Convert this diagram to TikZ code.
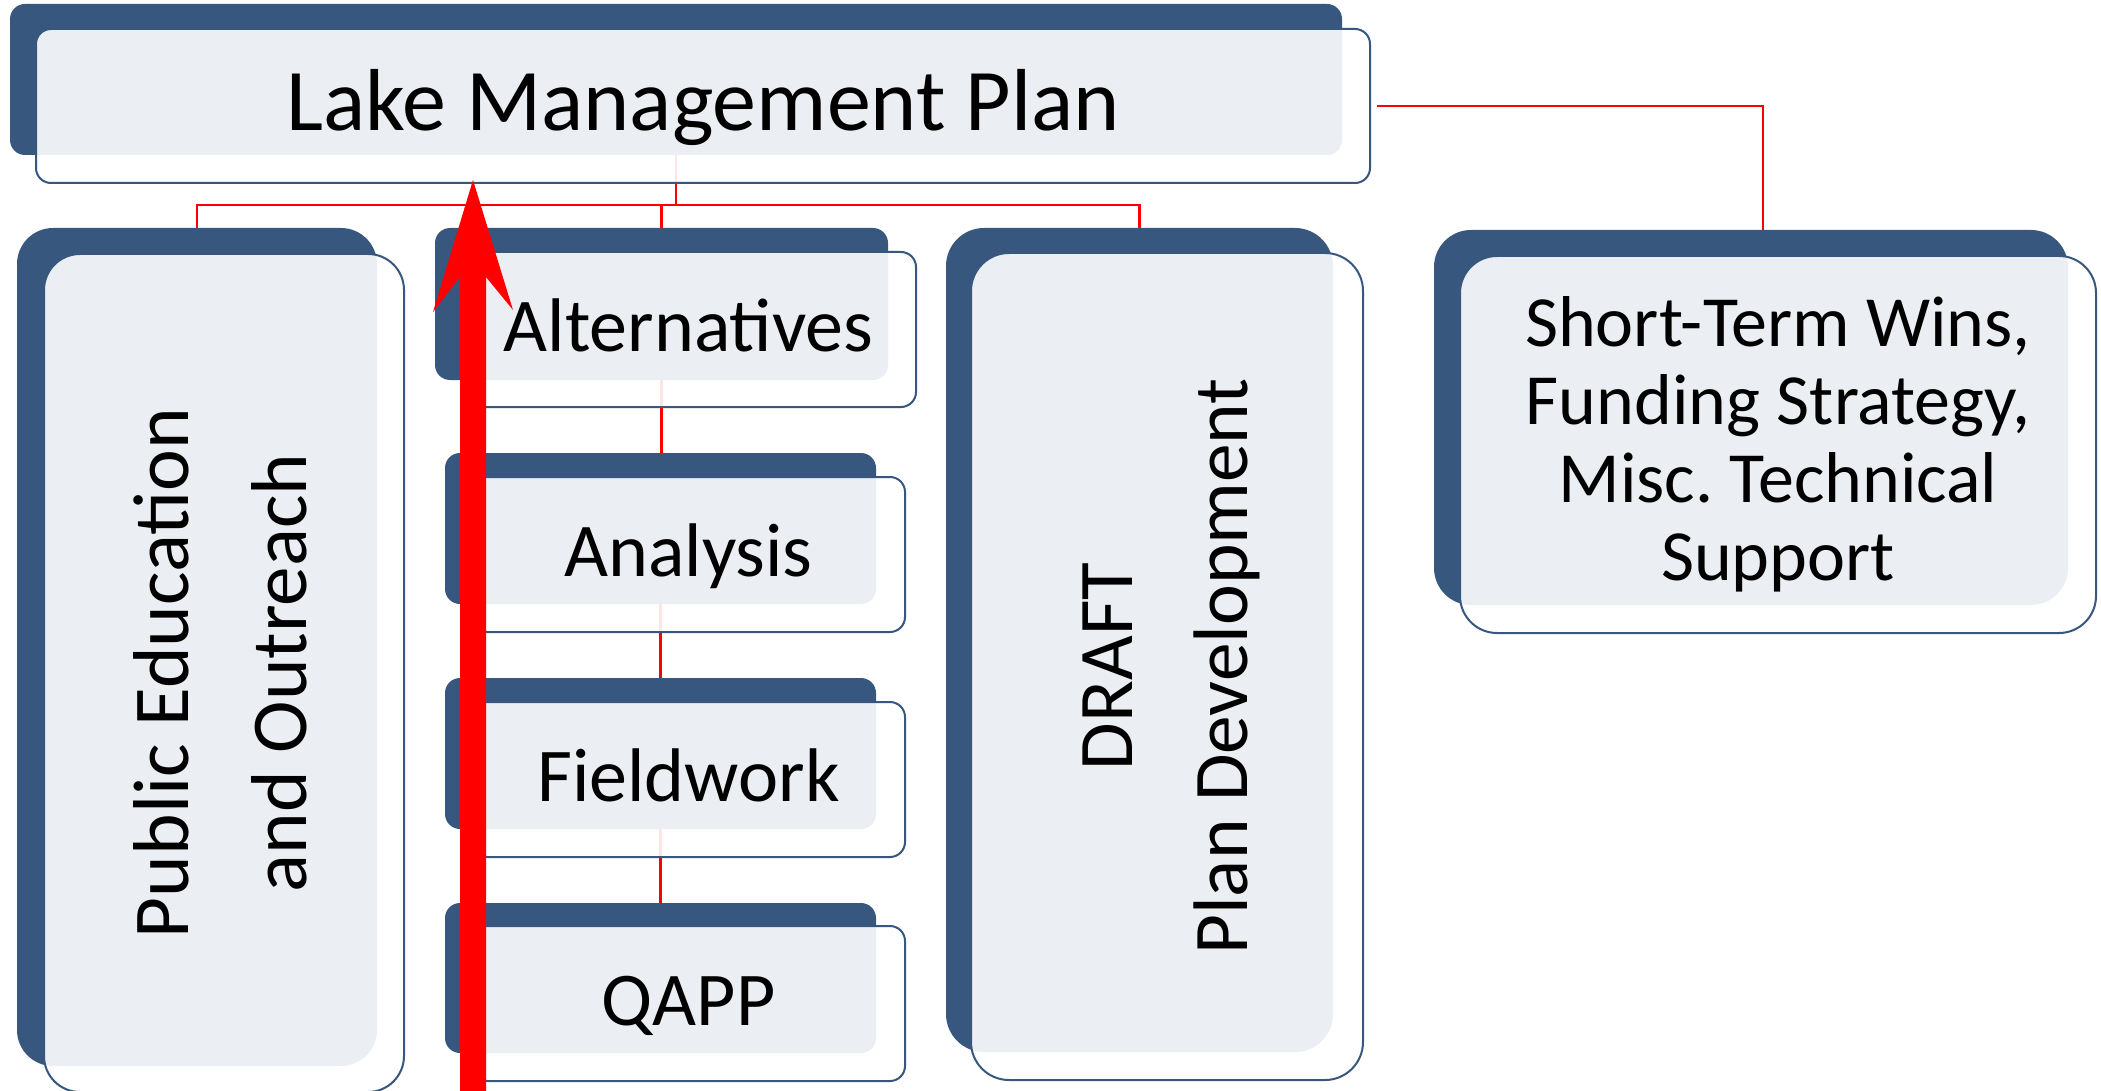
\documentclass[tikz,border=0pt]{standalone}
\usepackage{fontspec}
\setmainfont{Carlito}
\usetikzlibrary{calc}
\frenchspacing
\definecolor{navy}{RGB}{55,87,127}
\tikzset{
  backbox/.style={rectangle, fill=navy, draw=none, inner sep=0pt, outer sep=0pt},
  frontbox/.style={rectangle, fill=white, fill opacity=0.9, draw=navy, draw opacity=1, line width=1.5pt, inner sep=0pt, outer sep=0pt},
  link/.style={draw=red, line width=1.6pt},
  lbl/.style={text=black, inner sep=0pt, align=center, text opacity=1, fill opacity=1},
  childfont/.style={font=\fontsize{57}{68}\selectfont},
}
\newcommand\mkback[6]{\node[backbox, rounded corners=#6, minimum width={(#4-#2)*0.75pt}, minimum height={(#5-#3)*0.75pt}] (#1b) at ({(#2+#4)/2},{(#3+#5)/2}) {};}
\newcommand\mkfront[6]{\node[frontbox, rounded corners=#6, minimum width={(#4-#2)*0.75pt}, minimum height={(#5-#3)*0.75pt}] (#1f) at ({(#2+#4)/2},{(#3+#5)/2}) {};}
\begin{document}
\begin{tikzpicture}[x=0.75pt,y=-0.75pt]
\useasboundingbox (0,0) rectangle (2101,1091);
% back layers
\mkback{top}{10}{4}{1342}{155}{11.25pt}
\mkback{pub}{17}{228}{377}{1066}{27pt}
\mkback{alt}{435}{228}{888}{380}{11.25pt}
\mkback{ana}{445}{453}{876}{604}{11.25pt}
\mkback{fie}{445}{678}{876}{829}{11.25pt}
\mkback{qap}{445}{903}{876}{1053}{11.25pt}
\mkback{dra}{946}{228}{1333}{1052}{28.5pt}
\mkback{sho}{1434}{230}{2068}{605}{27.75pt}
% connectors
\coordinate (bus) at (0,205);
\draw[link] (topb.south) -- (topb.south |- bus) -| (pubb.north);
\draw[link] (topb.south) -- (topb.south |- bus) -| (altb.north);
\draw[link] (topb.south) -- (topb.south |- bus) -| (drab.north);
\draw[link] (altb.south) -- (altb.south |- anab.north);
\draw[link] (anab.south) -- (anab.south |- fieb.north);
\draw[link] (fieb.south) -- (fieb.south |- qapb.north);
% front layers
\mkfront{top}{36}{29}{1370}{183}{11.25pt}
\mkfront{pub}{44}{254}{404}{1092}{27pt}
\mkfront{alt}{461}{252}{916}{407}{11.25pt}
\mkfront{ana}{472}{477}{905}{632}{11.25pt}
\mkfront{fie}{472}{702}{905}{857}{11.25pt}
\mkfront{qap}{472}{926}{905}{1081}{11.25pt}
\mkfront{dra}{971}{253}{1363}{1080}{28.5pt}
\mkfront{sho}{1460}{256}{2096}{633}{27.75pt}
\draw[link] ([xshift=5.25pt]topf.east) -| ([xshift=9pt]shob.north);
% labels
\node[lbl, anchor=base, yshift=-18.75pt, font=\fontsize{66}{78}\selectfont] (toptxt) at (topf.center) {Lake Management Plan};
\node[lbl, childfont, anchor=base, yshift=-16.5pt] (alttxt) at (altf.center) {Alternatives};
\node[lbl, childfont, anchor=base, yshift=-16.5pt] (anatxt) at (anaf.center) {Analysis};
\node[lbl, childfont, anchor=base, yshift=-16.5pt] (fietxt) at (fief.center) {Fieldwork};
\node[lbl, childfont, anchor=base, yshift=-16.5pt] (qaptxt) at (qapf.center) {QAPP};
\node[lbl, font=\fontsize{59.4}{88.5}\selectfont, rotate=90, yshift=3pt] (pubtxt) at (pubf.center) {Public Education\\and Outreach};
\node[lbl, font=\fontsize{58}{86}\selectfont, rotate=90, yshift=-3.5pt] (dratxt) at (draf.center) {DRAFT\\Plan Development};
\node[lbl, font=\fontsize{54}{58.5}\selectfont] (shotxt) at (shof.center) {Short-Term Wins,\\Funding Strategy,\\Misc. Technical\\Support};
% big red arrow
\fill[red] (460,1100) -- (460,277) -- (433,312) -- (473,180) -- (513,310) -- (486,277) -- (486,1100) -- cycle;
\end{tikzpicture}
\end{document}
